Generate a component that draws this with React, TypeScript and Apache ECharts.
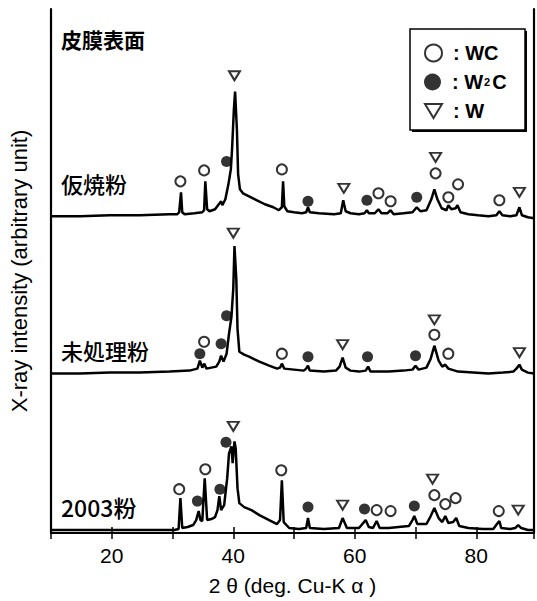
import React, { useEffect, useRef } from "react";
import * as echarts from "echarts";

// 2θ (deg) vs intensity above each trace's own baseline (arbitrary units)
const calcinedTrace: [number, number][] = [
  [10.0, 0], [14.8, 0], [19.7, 1], [24.6, 1], [29.5, 2], [30.8, 2], [31.1, 4], [31.4, 24], [31.6, 4], [32.0, 2],
  [33.6, 3], [34.9, 4], [35.2, 6], [35.4, 35], [35.7, 7], [36.1, 5], [37.0, 7], [37.5, 11], [38.0, 15], [38.2, 11],
  [38.7, 17], [39.2, 32], [39.6, 47], [39.8, 67], [40.1, 107], [40.3, 125], [40.6, 87], [40.8, 42], [41.1, 27],
  [41.6, 23], [42.6, 20], [43.9, 16], [45.2, 12], [46.6, 9], [47.5, 6], [48.0, 9], [48.2, 35], [48.4, 10], [48.9, 5],
  [50.0, 4], [51.3, 3], [52.0, 4], [52.3, 9], [52.6, 4], [54.1, 3], [56.6, 2], [57.7, 3], [58.1, 16], [58.5, 5],
  [59.3, 3], [60.7, 2], [61.6, 3], [62.0, 6], [62.3, 3], [63.3, 3], [63.9, 7], [64.4, 3], [65.4, 3], [65.9, 6],
  [66.4, 2], [68.0, 3], [69.5, 4], [70.2, 9], [70.8, 5], [71.8, 6], [72.6, 17], [73.1, 27], [73.6, 17], [74.3, 8],
  [75.1, 6], [75.4, 11], [75.9, 7], [76.6, 8], [76.9, 11], [77.4, 4], [78.7, 2], [80.3, 1], [82.0, 0], [83.3, 1],
  [83.8, 5], [84.3, 1], [85.6, 0], [86.6, 1], [87.1, 9], [87.5, 1], [88.5, -1], [89.5, -2],
];
const untreatedTrace: [number, number][] = [
  [10.0, -2], [14.8, -2], [19.7, -1], [24.6, -1], [29.5, 0], [32.8, 1], [34.1, 3], [34.5, 11], [34.9, 4], [35.2, 8],
  [35.6, 3], [36.4, 4], [37.2, 5], [37.7, 10], [38.0, 16], [38.4, 10], [38.9, 18], [39.3, 38], [39.7, 55], [40.0, 83],
  [40.2, 126], [40.5, 93], [40.7, 43], [41.0, 20], [41.8, 17], [42.6, 15], [44.3, 10], [45.9, 6], [47.2, 3], [47.7, 4],
  [48.0, 8], [48.4, 3], [50.0, 2], [51.6, 1], [52.0, 3], [52.3, 6], [52.6, 1], [54.9, 0], [56.9, 1], [57.5, 5],
  [58.0, 14], [58.5, 4], [59.3, 1], [60.7, 0], [61.8, 1], [62.2, 5], [62.6, 0], [65.6, 0], [68.0, 1], [69.5, 2],
  [70.0, 6], [70.5, 2], [71.8, 4], [72.5, 13], [73.1, 26], [73.8, 11], [74.4, 5], [74.9, 7], [75.4, 3], [77.0, 0],
  [79.5, -1], [82.0, -2], [84.4, -1], [86.1, 0], [86.6, 3], [87.1, 7], [87.5, 2], [88.5, -1], [89.5, -2],
];
const powder2003Trace: [number, number][] = [
  [10.0, 0], [18.0, 0], [26.2, 0], [30.3, 0], [31.0, 1], [31.3, 32], [31.6, 2], [32.5, 3], [33.4, 5], [33.9, 10],
  [34.3, 19], [34.6, 10], [34.9, 9], [35.3, 52], [35.7, 10], [36.4, 11], [37.0, 13], [37.4, 20], [37.7, 34], [38.0, 20],
  [38.5, 25], [39.0, 52], [39.3, 77], [39.7, 84], [39.9, 67], [40.2, 89], [40.4, 82], [40.7, 42], [41.0, 27], [41.8, 23],
  [43.0, 20], [44.3, 15], [45.9, 10], [47.2, 6], [47.7, 10], [48.0, 50], [48.3, 8], [49.2, 2], [50.8, 1], [52.0, 2],
  [52.3, 12], [52.6, 2], [54.9, 1], [57.4, 2], [58.0, 12], [58.7, 2], [60.7, 2], [61.8, 10], [62.3, 3], [63.0, 2],
  [63.6, 9], [64.1, 2], [65.6, 2], [67.2, 3], [68.9, 4], [69.5, 10], [69.8, 14], [70.3, 6], [71.8, 6], [72.5, 14],
  [73.1, 22], [73.8, 12], [74.4, 8], [74.9, 14], [75.4, 7], [76.2, 8], [76.7, 12], [77.2, 4], [78.7, 2], [81.1, 1],
  [82.8, 1], [83.4, 6], [83.8, 9], [84.1, 2], [85.6, 1], [86.4, 2], [86.9, 5], [87.4, 2], [88.5, 0], [89.5, 0],
];

// vertical offsets of the stacked patterns
const calcinedOffset = 318;
const untreatedOffset = 162;
const powder2003Offset = 3;

// phase markers: [2θ, height above baseline]
const calcinedWC: [number, number][] = [[31.3, 35], [35.2, 46], [48.0, 47], [63.9, 23], [65.9, 15], [73.3, 43], [75.4, 19], [77.0, 32], [83.8, 16]];
const calcinedW2C: [number, number][] = [[38.9, 55], [52.3, 15], [62.0, 16], [70.2, 19]];
const calcinedW: [number, number][] = [[40.2, 141], [58.2, 28], [73.3, 59], [87.1, 24]];
const untreatedWC: [number, number][] = [[35.2, 30], [48.0, 18], [73.1, 37], [75.4, 18]];
const untreatedW2C: [number, number][] = [[34.5, 18], [38.0, 28], [38.9, 56], [52.3, 15], [62.1, 15], [70.0, 16]];
const untreatedW: [number, number][] = [[40.0, 139], [58.0, 27], [73.1, 52], [87.1, 19]];
const p2003WC: [number, number][] = [[31.1, 41], [35.4, 61], [47.9, 60], [63.6, 20], [65.9, 19], [73.1, 35], [74.9, 26], [76.6, 32], [83.7, 19]];
const p2003W2C: [number, number][] = [[34.1, 29], [37.8, 41], [38.8, 88], [52.3, 23], [61.6, 21], [69.8, 24]];
const p2003W: [number, number][] = [[40.0, 104], [58.0, 25], [72.8, 51], [86.9, 20]];

const phaseNames = ["WC", "W2C", "W"];
const traceLabels = ["仮焼粉", "未処理粉", "2003粉"];
const xTickLabels = [20, 40, 60, 80];

const FONT = "'Liberation Sans', Arial, sans-serif";
const CJK = "'Noto Sans CJK JP', 'Liberation Sans', sans-serif";
const DOWN_TRIANGLE = "path://M0,0L12,0L6,10Z";

const shift = (arr: [number, number][], off: number) => arr.map(([x, y]) => [x, y + off]);

export default function App() {
  const ref = useRef<HTMLDivElement>(null);
  useEffect(() => {
    if (!ref.current) return;
    const chart = echarts.init(ref.current, null, { renderer: "svg" });
    const lineSeries = (data: number[][]) => ({
      type: "line",
      data,
      showSymbol: false,
      symbol: "none",
      lineStyle: { color: "#000", width: 2.5 },
      z: 2,
      silent: true,
    });
    const markerBase = { type: "scatter", z: 5, silent: true };
    const legendTops = [43, 72, 101];
    const legends = phaseNames.map((name, i) => ({
      z: 20,
      orient: "vertical",
      left: 424,
      top: legendTops[i],
      itemWidth: 17,
      itemHeight: 17,
      padding: 0,
      data: [name === "W" ? { name, icon: DOWN_TRIANGLE } : { name }],
      formatter: (n: string) => (n === "W2C" ? ": W{sub|2}C" : ": " + n),
      textStyle: {
        color: "#000",
        fontSize: 20,
        lineHeight: 17,
        fontWeight: "bold",
        fontFamily: FONT,
        padding: [0, 0, 0, 6],
        rich: { sub: { fontSize: 11, lineHeight: 17, fontWeight: "bold", fontFamily: FONT, color: "#000", padding: [0, 2, 0, 1] } },
      },
    }));
    const option: any = {
      animation: false,
      backgroundColor: "#fff",
      grid: { left: 50, right: 2, top: 9, bottom: 66 },
      xAxis: [
        {
          type: "value",
          min: 10,
          max: 89.5,
          interval: 10,
          position: "bottom",
          axisLine: { show: true, lineStyle: { color: "#000", width: 2.2 } },
          axisTick: { show: true, inside: true, length: 6, lineStyle: { color: "#000", width: 1.5 } },
          splitLine: { show: false },
          axisLabel: {
            show: true,
            margin: 12,
            color: "#000",
            fontSize: 21,
            fontFamily: FONT,
            formatter: (v: number) => (xTickLabels.includes(v) ? String(v) : ""),
          },
          name: "2 θ (deg. Cu-K α )",
          nameLocation: "middle",
          nameGap: 42,
          nameTextStyle: { color: "#000", fontSize: 21, fontFamily: FONT },
        },
        {
          type: "value",
          min: 10,
          max: 89.5,
          interval: 10,
          position: "top",
          axisLine: { show: true, lineStyle: { color: "#000", width: 2.2 } },
          axisTick: { show: true, inside: true, length: 6, lineStyle: { color: "#000", width: 1.5 } },
          splitLine: { show: false },
          axisLabel: { show: false },
        },
      ],
      yAxis: [
        {
          type: "value",
          min: 0,
          max: 526,
          position: "left",
          axisLine: { show: true, lineStyle: { color: "#000", width: 2.2 } },
          axisTick: { show: false },
          axisLabel: { show: false },
          splitLine: { show: false },
          name: "X-ray intensity (arbitrary unit)",
          nameLocation: "middle",
          nameGap: 21,
          nameTextStyle: { color: "#000", fontSize: 22, fontFamily: FONT },
        },
        {
          type: "value",
          min: 0,
          max: 526,
          position: "right",
          axisLine: { show: true, lineStyle: { color: "#000", width: 2.2 } },
          axisTick: { show: false },
          axisLabel: { show: false },
          splitLine: { show: false },
        },
      ],
      legend: legends,
      graphic: [
        { type: "rect", shape: { x: 412, y: 31, width: 115, height: 101 }, style: { fill: "#000" }, z: 1 },
        { type: "rect", shape: { x: 410, y: 29, width: 115, height: 101 }, style: { fill: "#fff", stroke: "#000", lineWidth: 1.5 }, z: 2 },
        { type: "text", left: 61, top: 28, style: { text: "皮膜表面", font: `bold 21px ${CJK}`, fill: "#000" }, z: 20 },
        { type: "text", left: 61, top: 172, style: { text: traceLabels[0], font: `500 22px ${CJK}`, fill: "#000" }, z: 20 },
        { type: "text", left: 61, top: 339, style: { text: traceLabels[1], font: `500 22px ${CJK}`, fill: "#000" }, z: 20 },
        { type: "text", left: 61, top: 495, style: { text: traceLabels[2], font: `500 23px ${CJK}`, fill: "#000" }, z: 20 },
      ],
      series: [
        lineSeries(shift(calcinedTrace, calcinedOffset)),
        lineSeries(shift(untreatedTrace, untreatedOffset)),
        lineSeries(shift(powder2003Trace, powder2003Offset)),
        {
          ...markerBase,
          name: "WC",
          symbol: "circle",
          symbolSize: 10,
          itemStyle: { color: "#fff", borderColor: "#000", borderWidth: 2 },
          data: [
            ...shift(calcinedWC, calcinedOffset),
            ...shift(untreatedWC, untreatedOffset),
            ...shift(p2003WC, powder2003Offset),
          ],
        },
        {
          ...markerBase,
          name: "W2C",
          symbol: "circle",
          symbolSize: 11,
          itemStyle: { color: "#000", borderColor: "#000", borderWidth: 0 },
          data: [
            ...shift(calcinedW2C, calcinedOffset),
            ...shift(untreatedW2C, untreatedOffset),
            ...shift(p2003W2C, powder2003Offset),
          ],
        },
        {
          ...markerBase,
          name: "W",
          symbol: "triangle",
          symbolRotate: 180,
          symbolSize: [11, 9],
          itemStyle: { color: "#fff", borderColor: "#000", borderWidth: 2 },
          data: [
            ...shift(calcinedW, calcinedOffset),
            ...shift(untreatedW, untreatedOffset),
            ...shift(p2003W, powder2003Offset),
          ],
        },
      ],
    };
    chart.setOption(option);
    return () => chart.dispose();
  }, []);
  return <div ref={ref} style={{ position: "fixed", left: 0, top: 0, width: 537, height: 601 }} />;
}
